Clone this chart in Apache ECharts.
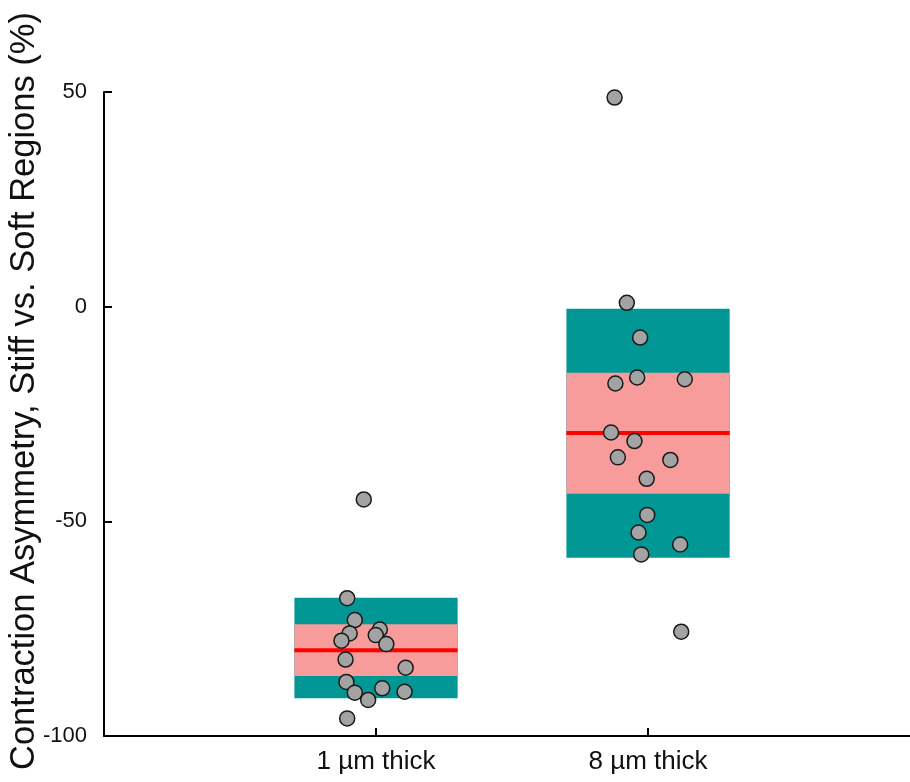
<!DOCTYPE html>
<html>
<head>
<meta charset="utf-8">
<script src="https://cdn.jsdelivr.net/npm/echarts@6/dist/echarts.min.js"></script>
<style>html,body{margin:0;padding:0;background:#fff;overflow:hidden;}#c{width:910px;height:782px;}</style>
</head>
<body>
<div id="c"></div>
<script>
// Categories and their x positions
const categories = ['1 \u00b5m thick', '8 \u00b5m thick'];
const catPos = [1, 2];
// Band summary values (%) per category
const outerHigh = [-67.8, -0.5];
const innerHigh = [-74.0, -15.4];
const means = [-80.0, -29.4];
const innerLow = [-86.0, -43.6];
const outerLow = [-91.2, -58.5];
const halfWidth = 0.3;
// Individual points: x jitter position and value
const pts1x = [0.955, 0.894, 0.922, 0.903, 0.873, 1.014, 0.999, 1.038, 0.888, 1.109, 0.891, 0.922, 1.023, 1.105, 0.971, 0.894];
const pts1y = [-44.9, -67.9, -73.0, -76.1, -77.8, -75.2, -76.5, -78.6, -82.2, -84.1, -87.4, -89.9, -88.9, -89.7, -91.6, -95.9];
const pts8x = [1.877, 1.922, 1.971, 1.960, 1.880, 2.135, 1.864, 1.950, 1.889, 2.082, 1.995, 1.997, 1.965, 2.118, 1.975, 2.122];
const pts8y = [48.7, 0.9, -7.2, -16.5, -17.9, -16.9, -29.3, -31.3, -35.1, -35.7, -40.1, -48.5, -52.6, -55.4, -57.7, -75.7];
const yTicks = [-100, -50, 0, 50];
const yTitle = 'Contraction Asymmetry, Stiff vs. Soft Regions (%)';

const bandData = catPos.map((p, i) => [p, outerHigh[i], innerHigh[i], means[i], innerLow[i], outerLow[i]]);
const pointData = pts1x.map((x, i) => [x, pts1y[i]]).concat(pts8x.map((x, i) => [x, pts8y[i]]));

const chart = echarts.init(document.getElementById('c'));
const font = 'Liberation Sans, Arial, sans-serif';
chart.setOption({
  animation: false,
  backgroundColor: '#fff',
  grid: { left: 104, right: 0, top: 92, bottom: 46, containLabel: false },
  xAxis: {
    type: 'value', min: 0, max: 2.963,
    splitLine: { show: false },
    axisLine: { show: true, onZero: false, lineStyle: { color: '#000', width: 2 } },
    axisTick: { show: true, inside: true, length: 8, customValues: catPos, lineStyle: { color: '#000', width: 2 } },
    axisLabel: {
      customValues: catPos, margin: 13, color: '#111', fontSize: 26, fontFamily: font,
      formatter: v => { const i = catPos.indexOf(v); return i >= 0 ? categories[i] : ''; }
    }
  },
  yAxis: {
    type: 'value', min: -100, max: 50, interval: 50,
    splitLine: { show: false },
    axisLine: { show: true, onZero: false, lineStyle: { color: '#000', width: 2 } },
    axisTick: { show: true, inside: true, length: 8, lineStyle: { color: '#000', width: 2 } },
    axisLabel: { margin: 17, color: '#111', fontSize: 22, fontFamily: font,
      formatter: v => yTicks.indexOf(v) >= 0 ? String(v) : '' }
  },
  graphic: [{
    type: 'text', x: 24, y: 391, rotation: Math.PI / 2,
    style: { text: yTitle, font: '34.5px ' + font, fill: '#111', align: 'center', verticalAlign: 'middle' }
  }],
  series: [
    {
      type: 'custom', z: 1,
      data: bandData,
      renderItem: (params, api) => {
        const x = api.value(0);
        const l = api.coord([x - halfWidth, api.value(1)]);
        const r = api.coord([x + halfWidth, api.value(5)]);
        const ih = api.coord([x, api.value(2)]);
        const m = api.coord([x, api.value(3)]);
        const il = api.coord([x, api.value(4)]);
        const w = r[0] - l[0];
        return { type: 'group', children: [
          { type: 'rect', shape: { x: l[0], y: l[1], width: w, height: r[1] - l[1] }, style: { fill: '#009795' } },
          { type: 'rect', shape: { x: l[0], y: ih[1], width: w, height: il[1] - ih[1] }, style: { fill: '#f89b9b' } },
          { type: 'line', shape: { x1: l[0], y1: m[1], x2: r[0], y2: m[1] }, style: { stroke: '#ff0000', lineWidth: 4 } }
        ]};
      }
    },
    {
      type: 'scatter', z: 3,
      data: pointData,
      symbol: 'circle', symbolSize: 15,
      itemStyle: { color: '#a3a3a3', borderColor: '#1a1a1a', borderWidth: 1.5, opacity: 1 }
    }
  ]
});
</script>
</body>
</html>
